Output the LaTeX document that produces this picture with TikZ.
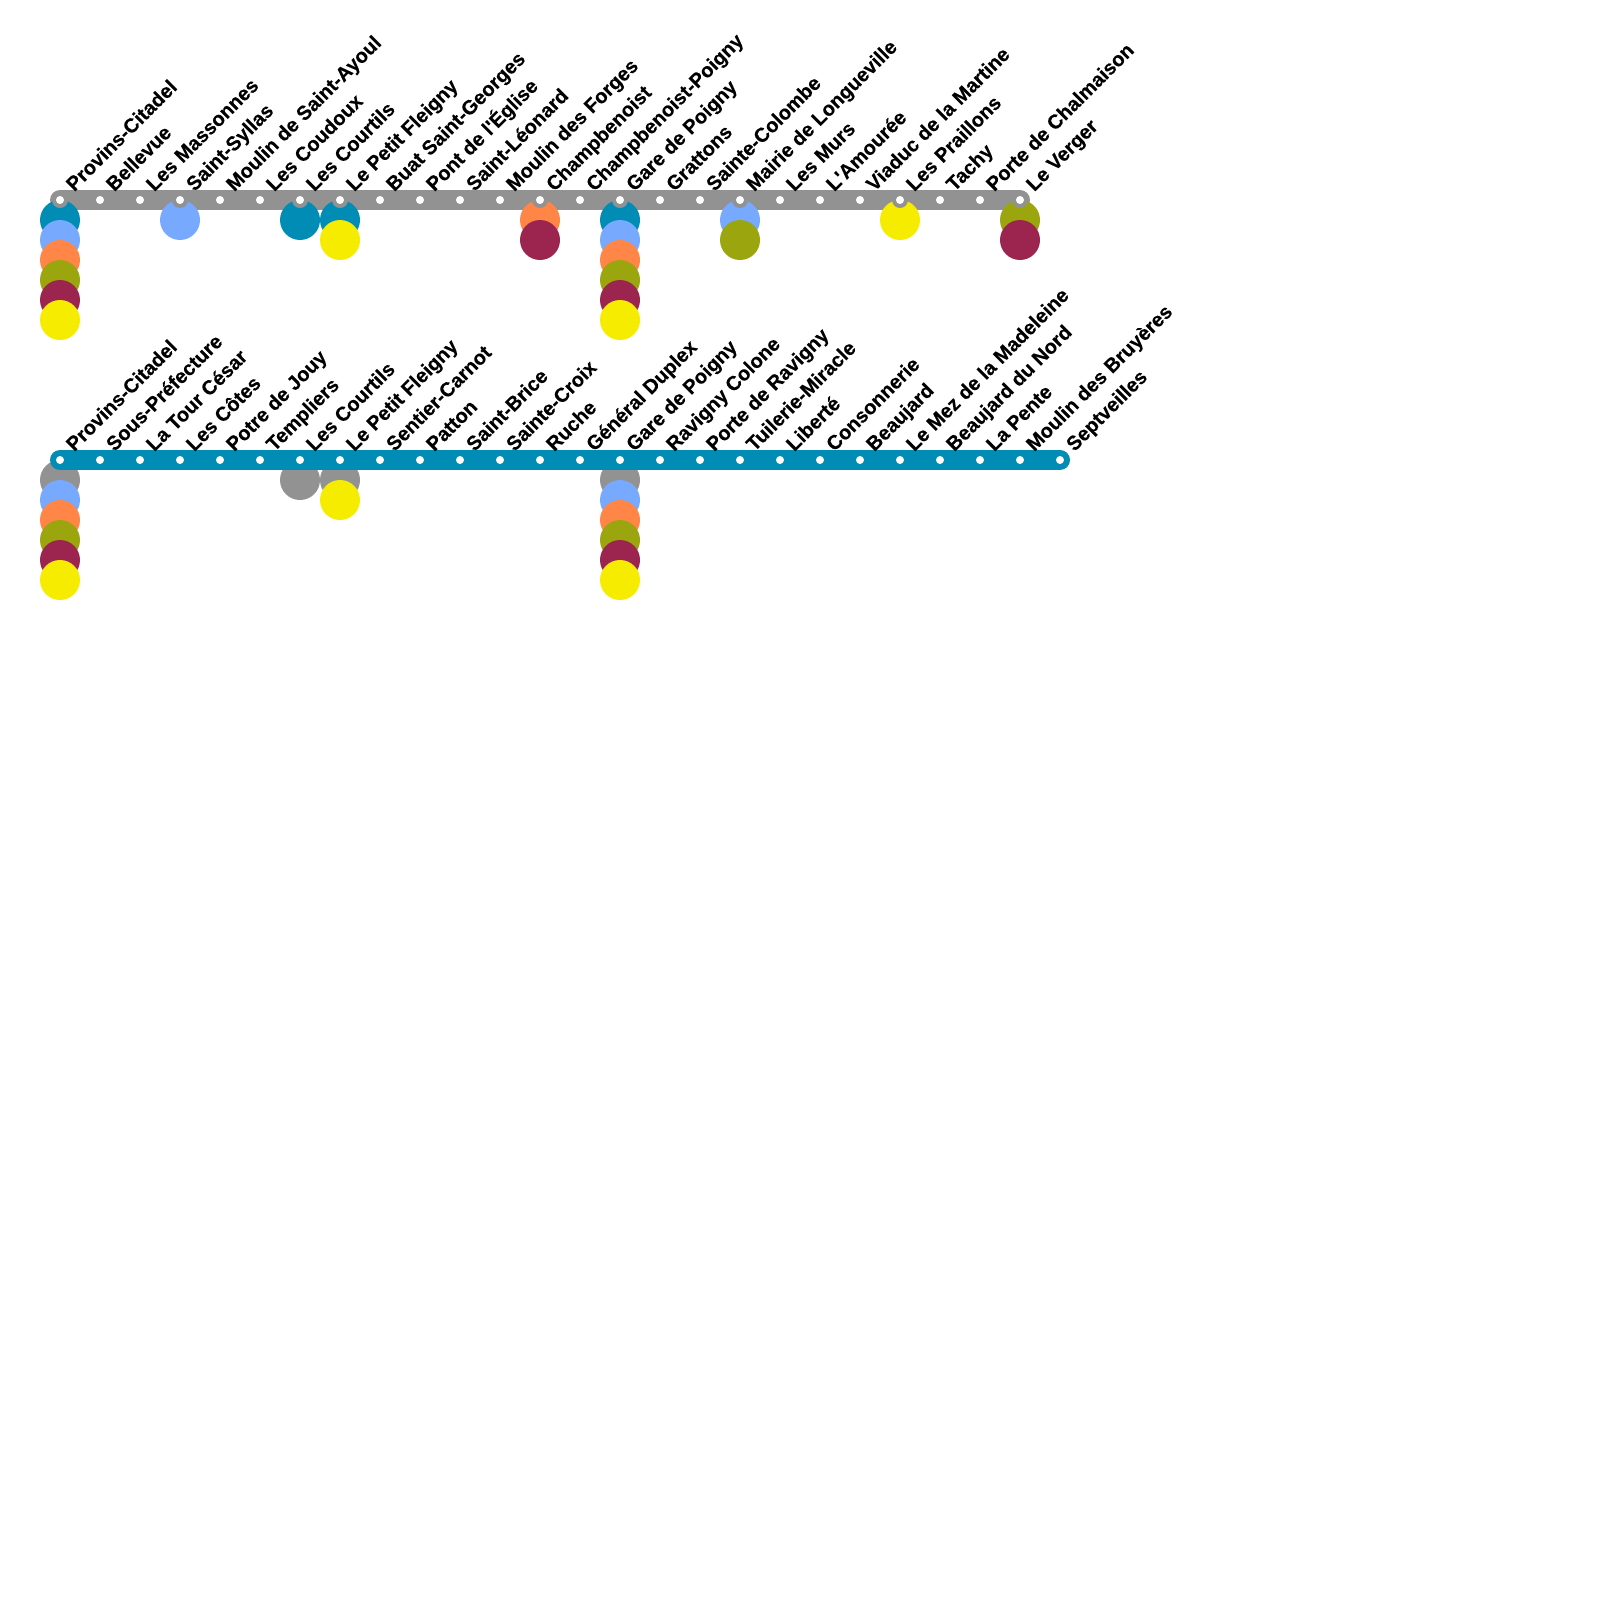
\documentclass[tikz,border=0pt]{standalone}
\usepackage{fontspec}
\newfontfamily\stopfont{Liberation Sans}[BoldFeatures={FakeBold=0.25}]
\definecolor{linegray}{HTML}{929292}
\definecolor{lineteal}{HTML}{008CB4}
\definecolor{lineblue}{HTML}{76A9FF}
\definecolor{lineorange}{HTML}{FF8646}
\definecolor{lineolive}{HTML}{9BA50E}
\definecolor{linemaroon}{HTML}{9C2550}
\definecolor{lineyellow}{HTML}{F6EC00}

\begin{document}
\begin{tikzpicture}[
        x=1pt, y=-1pt,
        band/.style={line width=20pt, line cap=round},
        dot/.style={circle, fill=white, inner sep=0pt, minimum size=8pt},
        disc/.style={circle, inner sep=0pt, minimum size=40pt},
        bite/.style={circle, fill=linegray, inner sep=0pt, minimum size=16pt},
        stopname/.style={rotate=45, anchor=base west, inner sep=0pt, font=\stopfont\bfseries\fontsize{20pt}{24pt}\selectfont}
    ]
        \useasboundingbox (0,0) rectangle (1600,1600);

        % Define stop positions
        \foreach \i in {1,...,25} {
            \coordinate (top\i) at ({20+40*\i},200);
        }
        \foreach \i in {1,...,26} {
            \coordinate (bot\i) at ({20+40*\i},460);
        }

        % Upper line with its transfer discs
        \draw [band, linegray] (top1) -- (top25);
        \foreach \stop/\row/\tint in {1/1/lineteal, 1/2/lineblue, 1/3/lineorange, 1/4/lineolive, 1/5/linemaroon, 1/6/lineyellow,
                4/1/lineblue, 7/1/lineteal, 8/1/lineteal, 8/2/lineyellow, 13/1/lineorange, 13/2/linemaroon,
                15/1/lineteal, 15/2/lineblue, 15/3/lineorange, 15/4/lineolive, 15/5/linemaroon, 15/6/lineyellow,
                18/1/lineblue, 18/2/lineolive, 22/1/lineyellow, 25/1/lineolive, 25/2/linemaroon} {
            \node (topdisc\stop-\row) [disc, fill=\tint, yshift=-20pt*\row] at (top\stop) {};
        }
        \foreach \stop in {1,4,7,8,13,15,18,22,25} {
            \node (topbite\stop) [bite] at (top\stop) {};
        }

        % Lower line, the band lies over its discs
        \foreach \stop/\row/\tint in {1/1/linegray, 1/2/lineblue, 1/3/lineorange, 1/4/lineolive, 1/5/linemaroon, 1/6/lineyellow,
                7/1/linegray, 8/1/linegray, 8/2/lineyellow,
                15/1/linegray, 15/2/lineblue, 15/3/lineorange, 15/4/lineolive, 15/5/linemaroon, 15/6/lineyellow} {
            \node (botdisc\stop-\row) [disc, fill=\tint, yshift=-20pt*\row] at (bot\stop) {};
        }
        \draw [band, lineteal] (bot1) -- (bot26);

        % Stops and their names
        \foreach \name [count=\i] in {Provins-Citadel, Bellevue, Les Massonnes, Saint-Syllas, Moulin de Saint-Ayoul,
                Les Coudoux, Les Courtils, Le Petit Fleigny, Buat Saint-Georges, Pont de l'Église, Saint-Léonard,
                Moulin des Forges, Champbenoist, Champbenoist-Poigny, Gare de Poigny, Grattons, Sainte-Colombe,
                Mairie de Longueville, Les Murs, L'Amourée, Viaduc de la Martine, Les Praillons, Tachy,
                Porte de Chalmaison, Le Verger} {
            \node (topdot\i) [dot] at (top\i) {};
            \node (topname\i) [stopname] at ([xshift=14.3pt, yshift=7.7pt]top\i) {\name};
        }
        \foreach \name [count=\i] in {Provins-Citadel, Sous-Préfecture, La Tour César, Les Côtes, Potre de Jouy,
                Templiers, Les Courtils, Le Petit Fleigny, Sentier-Carnot, Patton, Saint-Brice, Sainte-Croix, Ruche,
                Général Duplex, Gare de Poigny, Ravigny Colone, Porte de Ravigny, Tuilerie-Miracle, Liberté,
                Consonnerie, Beaujard, Le Mez de la Madeleine, Beaujard du Nord, La Pente, Moulin des Bruyères,
                Septveilles} {
            \node (botdot\i) [dot] at (bot\i) {};
            \node (botname\i) [stopname] at ([xshift=14.3pt, yshift=7.7pt]bot\i) {\name};
        }
    \end{tikzpicture}
\end{document}
